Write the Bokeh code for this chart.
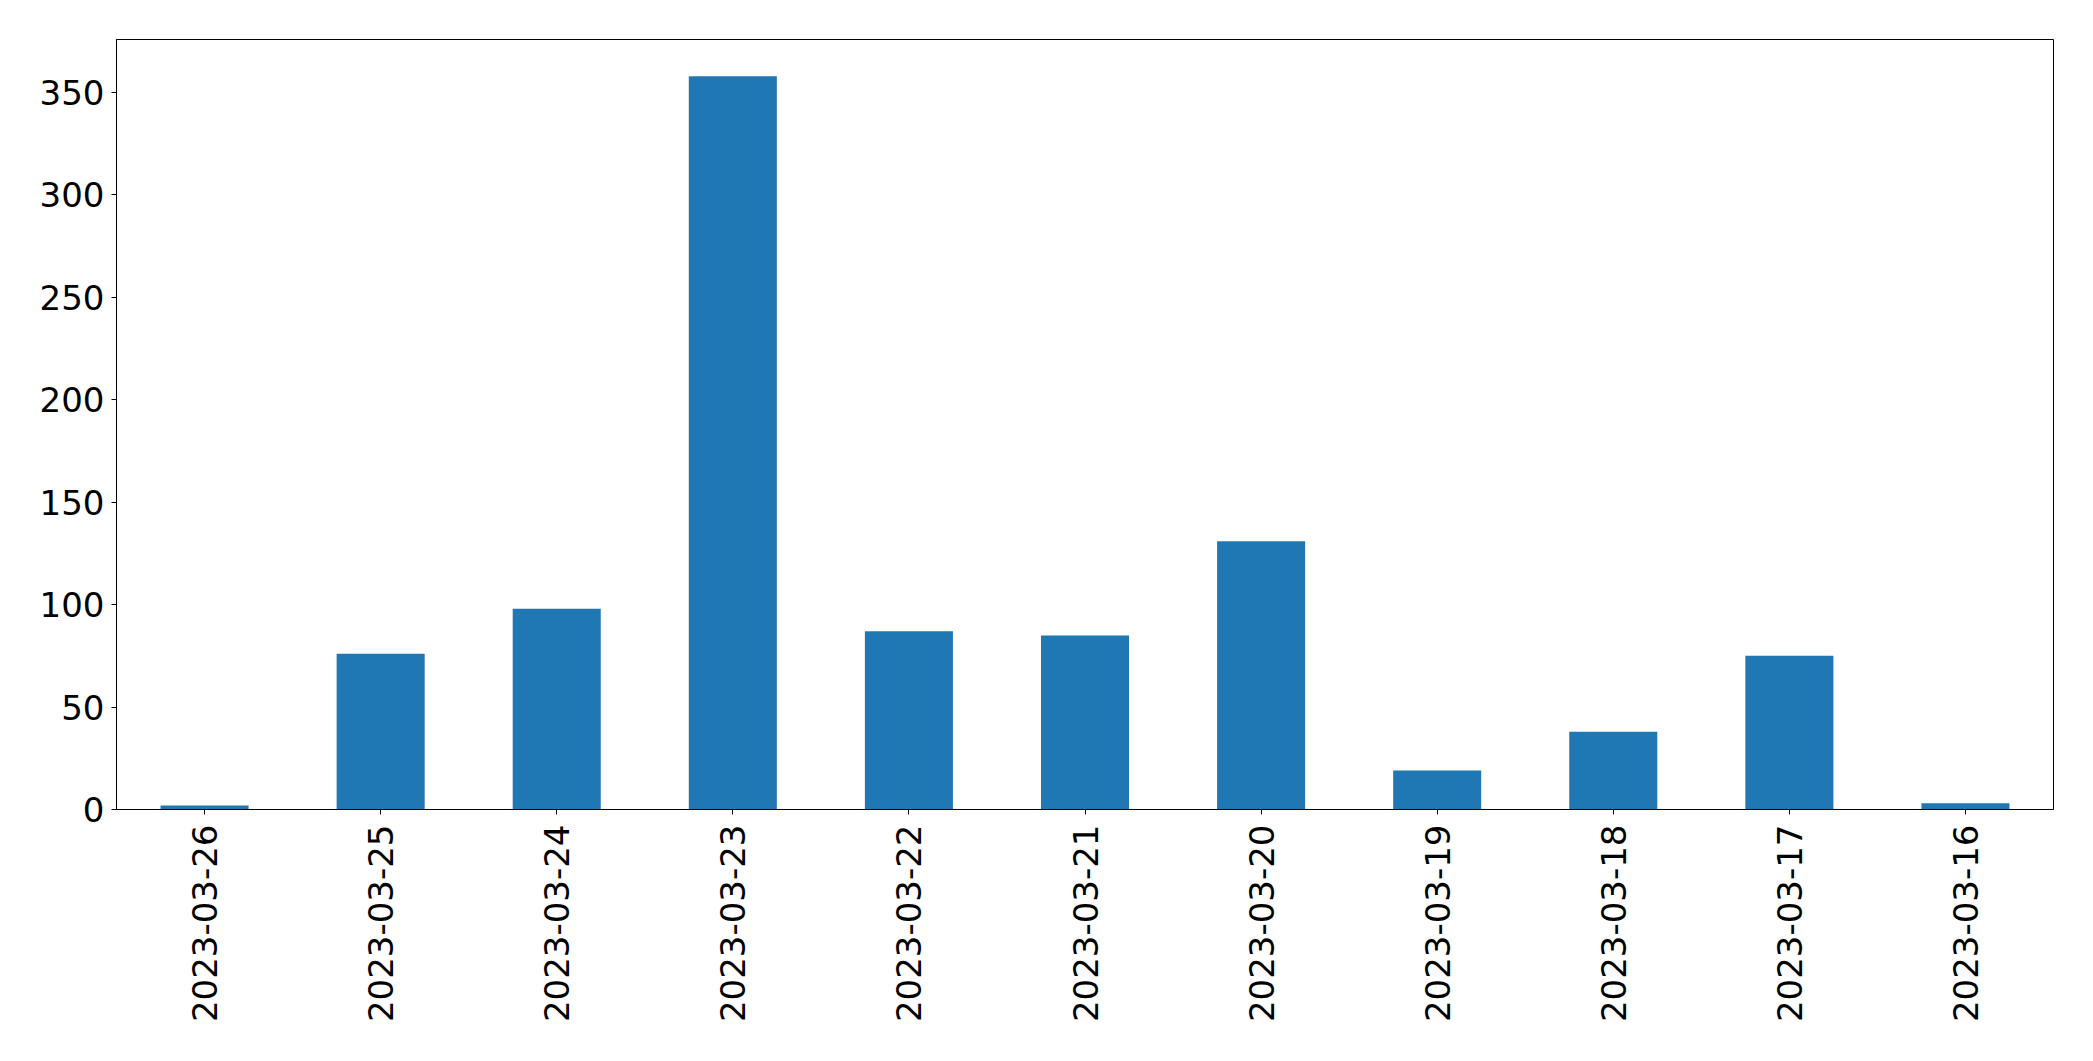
import math
from bokeh.plotting import figure
from bokeh.models import ColumnDataSource, Range1d, FixedTicker
from bokeh.embed import file_html
from bokeh.resources import INLINE

dates = ["2023-03-26", "2023-03-25", "2023-03-24", "2023-03-23", "2023-03-22",
         "2023-03-21", "2023-03-20", "2023-03-19", "2023-03-18", "2023-03-17",
         "2023-03-16"]
counts = [2, 76, 98, 358, 87, 85, 131, 19, 38, 75, 3]
y_ticks = [0, 50, 100, 150, 200, 250, 300, 350]

source = ColumnDataSource(data=dict(date=dates, count=counts))

p = figure(x_range=dates, y_range=Range1d(0, max(counts) * 1.05),
           width=2085, height=1053, output_backend="svg", toolbar_location=None,
           min_border_left=116, min_border_top=39, min_border_right=32, min_border_bottom=244)

p.vbar(x="date", top="count", width=0.5, source=source, color="#1f77b4", line_color=None)

p.xgrid.grid_line_color = None
p.ygrid.grid_line_color = None
p.outline_line_color = "black"
p.outline_line_width = 1
p.outline_line_alpha = 1

p.yaxis.ticker = FixedTicker(ticks=y_ticks)
p.yaxis.minor_tick_line_color = None

for ax in (p.xaxis[0], p.yaxis[0]):
    ax.major_label_text_font = "DejaVu Sans"
    ax.major_label_text_font_size = "34px"
    ax.major_label_text_color = "black"
    ax.major_tick_out = 5
    ax.major_tick_in = 0
    ax.major_tick_line_color = "black"
    ax.axis_line_color = "black"
    ax.major_label_standoff = 7

p.xaxis.major_label_orientation = math.pi / 2
p.xaxis.major_label_standoff = 10

p.background_fill_color = "white"
p.border_fill_color = "white"

open("out.html", "w").write(file_html(p, INLINE))
